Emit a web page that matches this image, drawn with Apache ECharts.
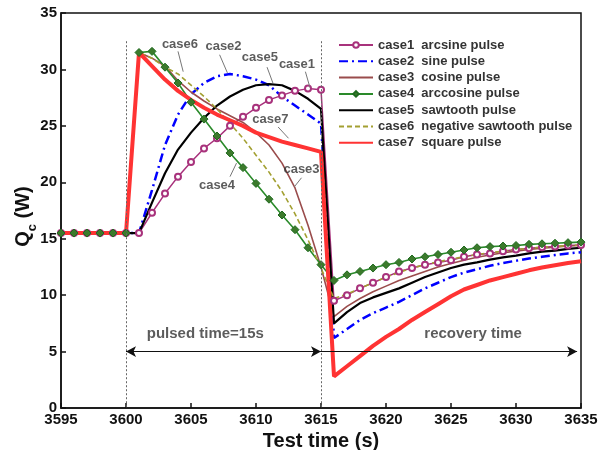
<!DOCTYPE html>
<html><head><meta charset="utf-8">
<script src="https://cdn.jsdelivr.net/npm/echarts@6/dist/echarts.min.js"></script>
<style>html,body{margin:0;padding:0;background:#fff}#c{width:602px;height:450px}</style>
</head><body><div id="c"></div>
<script>
// ---- data ----
const times = [3595,3596,3597,3598,3599,3600,3601,3602,3603,3604,3605,3606,3607,3608,3609,3610,3611,3612,3613,3614,3615,
               3616,3617,3618,3619,3620,3621,3622,3623,3624,3625,3626,3627,3628,3629,3630,3631,3632,3633,3634,3635];
const case1 = [15.5,15.5,15.5,15.5,15.5,15.5,15.5,17.3,19.0,20.5,21.8,23.0,23.9,25.0,25.8,26.6,27.3,27.7,28.1,28.3,28.2,
               9.5,10.0,10.6,11.1,11.6,12.1,12.4,12.7,12.9,13.1,13.4,13.6,13.7,13.9,14.05,14.15,14.25,14.3,14.4,14.45];
const case2 = [15.5,15.5,15.5,15.5,15.5,15.5,15.5,19.3,23.3,26.0,27.8,28.8,29.4,29.6,29.4,29.1,28.6,27.6,26.8,26.0,25.2,
               6.2,7.0,7.8,8.4,8.9,9.4,10.0,10.6,11.1,11.6,12.0,12.3,12.6,12.85,13.05,13.25,13.4,13.55,13.7,13.8];
const case3 = [15.5,15.5,15.5,15.5,15.5,15.5,31.5,31.0,30.3,29.0,28.0,27.2,26.5,25.9,25.3,24.4,23.3,21.7,19.5,16.2,12.5,
               8.1,9.0,9.7,10.3,10.8,11.3,11.7,12.1,12.5,12.8,13.1,13.35,13.55,13.75,13.9,14.05,14.15,14.25,14.35,14.4];
const case4 = [15.5,15.5,15.5,15.5,15.5,15.5,31.5,31.6,30.2,28.8,27.1,25.6,24.1,22.6,21.3,19.9,18.5,17.1,15.8,14.2,12.7,
               11.3,11.8,12.1,12.4,12.7,12.9,13.2,13.4,13.6,13.8,14.0,14.2,14.3,14.35,14.4,14.5,14.55,14.6,14.65,14.7];
const case5 = [15.5,15.5,15.5,15.5,15.5,15.5,15.5,18.2,20.8,22.9,24.4,25.7,26.8,27.6,28.2,28.6,28.7,28.6,28.1,27.4,26.5,
               7.5,8.5,9.3,9.8,10.2,10.6,11.1,11.6,12.0,12.4,12.7,12.9,13.15,13.35,13.5,13.7,13.85,13.95,14.1,14.2];
const case6 = [15.5,15.5,15.5,15.5,15.5,15.5,31.5,31.0,30.2,29.6,28.6,27.6,26.5,25.2,23.9,22.4,20.9,19.2,17.2,14.9,12.4,
               9.7,10.1,10.6,11.1,11.6,12.0,12.4,12.7,12.95,13.2,13.4,13.6,13.75,13.9,14.05,14.15,14.25,14.3,14.4,14.45];
const case7 = [15.5,15.5,15.5,15.5,15.5,15.5,31.5,30.3,29.1,28.1,27.3,26.6,26.0,25.5,25.0,24.4,24.0,23.6,23.3,23.0,22.7,
               2.8,3.7,4.6,5.5,6.3,7.0,7.8,8.5,9.2,9.9,10.5,10.9,11.3,11.6,11.9,12.2,12.45,12.65,12.85,13.0];
const seriesNames = ['case1  arcsine pulse','case2  sine pulse','case3  cosine pulse','case4  arccosine pulse',
                     'case5  sawtooth pulse','case6  negative sawtooth pulse','case7  square pulse'];
const xTicks = [3595,3600,3605,3610,3615,3620,3625,3630,3635];
const yTicks = [0,5,10,15,20,25,30,35];
// annotation labels: [time, value, text] and leader lines [t1,v1,t2,v2]
const annoLabels = [[3604.15,32.2,'case6'],[3607.5,32.0,'case2'],[3610.3,31.1,'case5'],[3613.15,30.4,'case1'],
                    [3611.1,25.6,'case7'],[3607.0,19.7,'case4'],[3613.5,21.1,'case3']];
const annoLeaders = [[3604.0,31.6,3604.4,29.8],[3607.2,31.3,3607.8,29.7],[3610.85,30.2,3611.3,28.8],
                     [3613.8,29.8,3614.15,28.4],[3611.7,24.9,3612.5,23.9],[3608.0,20.5,3608.5,21.7],[3613.5,20.4,3612.95,19.6]];
const phaseLabels = [[3606.1,6.55,'pulsed time=15s'],[3626.7,6.55,'recovery time']];
const pulseStart = 3600, pulseEnd = 3615, arrowLevel = 5, markTop = 32.5;

// ---- chart ----
const FONT = 'Liberation Sans, Arial, sans-serif';
const chart = echarts.init(document.getElementById('c'), null, {renderer:'canvas'});
const pairs = arr => times.map((t,i)=>[t,arr[i]]);
const base = {type:'line', animation:false, z:3};
const series = [
  Object.assign({}, base, {name:seriesNames[0], data:pairs(case1), symbol:'emptyCircle', symbolSize:6,
    lineStyle:{color:'#a8327c', width:1.5}, itemStyle:{color:'#a8327c', borderColor:'#a8327c', borderWidth:1.2}}),
  Object.assign({}, base, {name:seriesNames[1], data:pairs(case2), symbol:'none',
    lineStyle:{color:'#0000ff', width:2.5, type:[9,4,2,4]}, itemStyle:{color:'#0000ff'}}),
  Object.assign({}, base, {name:seriesNames[2], data:pairs(case3), symbol:'none',
    lineStyle:{color:'#9a4c4c', width:1.6}, itemStyle:{color:'#9a4c4c'}}),
  Object.assign({}, base, {name:seriesNames[3], data:pairs(case4), symbol:'diamond', symbolSize:8,
    lineStyle:{color:'#2a8a2a', width:1.6}, itemStyle:{color:'#3c7a2c', borderColor:'#1f6a1f', borderWidth:1}}),
  Object.assign({}, base, {name:seriesNames[4], data:pairs(case5), symbol:'none',
    lineStyle:{color:'#000000', width:2.2}, itemStyle:{color:'#000000'}}),
  Object.assign({}, base, {name:seriesNames[5], data:pairs(case6), symbol:'none',
    lineStyle:{color:'#a3a032', width:1.6, type:[5,3]}, itemStyle:{color:'#a3a032'}}),
  Object.assign({}, base, {name:seriesNames[6], data:pairs(case7), symbol:'none',
    lineStyle:{color:'#ff3333', width:4}, itemStyle:{color:'#ff3333'}})
];
// helper series: annotations, leaders, phase arrows, dotted markers
series.push({
  type:'scatter', name:'annot', silent:true, animation:false, symbolSize:0, z:5,
  data: annoLabels.concat(phaseLabels).map(a=>({value:[a[0],a[1]], name:a[2],
        label:{fontSize: a[2].length>6 ? 15 : 13}})),
  label:{show:true, position:'inside', formatter:p=>p.name, color:'#333', fontWeight:'bold', fontFamily:FONT},
  markLine:{silent:true, animation:false, symbol:'none', label:{show:false},
    data: annoLeaders.map(l=>[{coord:[l[0],l[1]], lineStyle:{color:'#777', width:1, type:'solid'}},
                              {coord:[l[2],l[3]]}])
      .concat([
        [{coord:[pulseStart,markTop], lineStyle:{color:'#666', width:1, type:[2,2]}},{coord:[pulseStart,0]}],
        [{coord:[pulseEnd,markTop], lineStyle:{color:'#666', width:1, type:[2,2]}},{coord:[pulseEnd,0]}]
      ])
  }
});
series.push({
  type:'line', name:'arrows', silent:true, animation:false, data:[], z:4,
  markLine:{silent:true, animation:false, label:{show:false}, symbolSize:[8,10],
    data:[
      [{coord:[pulseStart,arrowLevel], symbol:'arrow', lineStyle:{color:'#111', width:1, type:'solid'}},
       {coord:[pulseEnd,arrowLevel], symbol:'arrow'}],
      [{coord:[pulseEnd,arrowLevel], symbol:'none', lineStyle:{color:'#111', width:1, type:'solid'}},
       {coord:[3634.7,arrowLevel], symbol:'arrow'}]
    ]}
});

const legendData = seriesNames.map((n,i)=> (i===0 || i===3) ? {name:n} : {name:n, itemStyle:{opacity:0}});

chart.setOption({
  backgroundColor:'#fff',
  animation:false,
  textStyle:{fontFamily:FONT},
  grid:{left:61, right:21, top:13, bottom:42, containLabel:false, outerBoundsMode:'none',
        show:true, borderColor:'#111', borderWidth:1.5, backgroundColor:'transparent'},
  xAxis:{type:'value', min:xTicks[0], max:xTicks[xTicks.length-1], interval:5,
    name:'Test time (s)', nameLocation:'middle', nameGap:23,
    nameTextStyle:{fontSize:20, fontWeight:'bold', color:'#111', fontFamily:FONT},
    axisLine:{onZero:false, lineStyle:{color:'#111', width:1.5}},
    axisTick:{inside:true, length:5, lineStyle:{color:'#111', width:1.5}},
    axisLabel:{fontSize:15, fontWeight:'bold', color:'#111', margin:4, fontFamily:FONT, formatter:v=>String(v)},
    splitLine:{show:false}},
  yAxis:{type:'value', min:yTicks[0], max:yTicks[yTicks.length-1], interval:5,
    name:'{q|Q}{s|c}{q| (W)}', nameLocation:'middle', nameGap:22, nameRotate:90, nameMoveOverlap:false,
    nameTextStyle:{color:'#111', padding:[0,12,0,0], rich:{
      q:{fontSize:20, fontWeight:'bold', color:'#111', fontFamily:FONT, lineHeight:32, verticalAlign:'middle'},
      s:{fontSize:13, fontWeight:'bold', color:'#111', fontFamily:FONT, lineHeight:12, verticalAlign:'bottom'}}},
    axisLine:{lineStyle:{color:'#111', width:1.5}},
    axisTick:{inside:true, length:5, lineStyle:{color:'#111', width:1.5}},
    axisLabel:{fontSize:15, fontWeight:'bold', color:'#111', margin:4, fontFamily:FONT},
    splitLine:{show:false}},
  legend:{data:legendData, orient:'vertical', left:338, top:38, padding:0, itemWidth:34, itemHeight:7, itemGap:2.3,
    textStyle:{fontSize:13, fontWeight:'bold', color:'#333', fontFamily:FONT, lineHeight:14}, selectedMode:false},
  series:series
});
</script></body></html>
